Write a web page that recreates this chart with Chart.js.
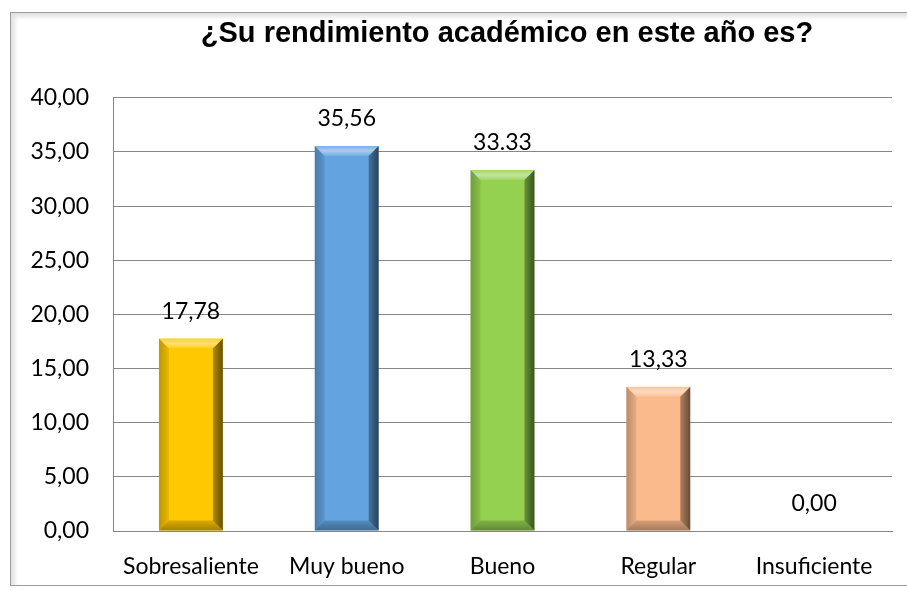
<!DOCTYPE html>
<html>
<head>
<meta charset="utf-8">
<script src="https://cdn.jsdelivr.net/npm/chart.js@4.4.1/dist/chart.umd.min.js"></script>
<style>
html, body { margin: 0; padding: 0; background: #fff; overflow: hidden; }
#wrap { position: relative; width: 907px; height: 591px; overflow: hidden; }
#frame { position: absolute; left: 10px; top: 12px; width: 1010px; height: 572px;
         border-top: 1px solid #9c9c9c; border-left: 1px solid #9c9c9c; border-bottom: 1px solid #9c9c9c;
         box-shadow: inset 4px 4px 4px #e2e2e2; }
#myChart { position: absolute; left: 0; top: 0; }
</style>
</head>
<body>
<div id="wrap">
  <div id="frame"></div>
  <canvas id="myChart" width="1014" height="591"></canvas>
</div>
<script>
const categorias = ['Sobresaliente', 'Muy bueno', 'Bueno', 'Regular', 'Insuficiente'];
const porcentajes = [17.78, 35.56, 33.33, 13.33, 0];
const etiquetasValor = ['17,78', '35,56', '33.33', '13,33', '0,00'];
const coloresBarra = ['#FFC800', '#62A3E0', '#94D150', '#FBBA8C', '#FBBA8C'];

const fuente = 'Lato, Calibri, sans-serif';

// relieve de las barras (estilo biselado de Excel)
const biselPlugin = {
    id: 'bisel',
    afterDatasetsDraw(chart) {
        const c = chart.ctx;
        const meta = chart.getDatasetMeta(0);
        meta.data.forEach(function (bar) {
            const w = bar.width;
            const l = bar.x - w / 2, r = bar.x + w / 2;
            const t = Math.min(bar.y, bar.base), b = Math.max(bar.y, bar.base);
            if (b - t < 2) return;
            const k = Math.min(10, (b - t) / 2);
            const poly = function (pts, color) {
                c.beginPath();
                c.moveTo(pts[0][0], pts[0][1]);
                for (let i = 1; i < pts.length; i++) c.lineTo(pts[i][0], pts[i][1]);
                c.closePath();
                c.fillStyle = color;
                c.fill();
            };
            c.save();
            let gl = c.createLinearGradient(l, 0, l + k, 0);
            gl.addColorStop(0, 'rgba(0,0,0,0.25)');
            gl.addColorStop(1, 'rgba(0,0,0,0.08)');
            poly([[l, t], [l + k, t + k], [l + k, b - k], [l, b]], gl);
            let gr = c.createLinearGradient(r - k, 0, r, 0);
            gr.addColorStop(0, 'rgba(0,0,0,0.30)');
            gr.addColorStop(1, 'rgba(0,0,0,0.60)');
            poly([[r, t], [r, b], [r - k, b - k], [r - k, t + k]], gr);
            let gb = c.createLinearGradient(0, b - k, 0, b);
            gb.addColorStop(0, 'rgba(0,0,0,0.15)');
            gb.addColorStop(1, 'rgba(0,0,0,0.35)');
            poly([[l, b], [r, b], [r - k, b - k], [l + k, b - k]], gb);
            let gt = c.createLinearGradient(0, t, 0, t + k);
            gt.addColorStop(0, 'rgba(255,255,255,0.15)');
            gt.addColorStop(0.5, 'rgba(255,255,255,0.45)');
            gt.addColorStop(1, 'rgba(255,255,255,0.10)');
            poly([[l, t], [r, t], [r - k, t + k], [l + k, t + k]], gt);
            c.restore();
        });
    },
    afterDraw(chart) {
        const c = chart.ctx;
        const meta = chart.getDatasetMeta(0);
        c.save();
        c.font = '23px ' + fuente;
        c.fillStyle = '#000';
        c.textAlign = 'center';
        c.textBaseline = 'middle';
        meta.data.forEach(function (bar, i) {
            c.fillText(etiquetasValor[i], bar.x, bar.y - 27);
        });
        c.restore();
    }
};

const ctx = document.getElementById('myChart').getContext('2d');
const myChart = new Chart(ctx, {
    type: 'bar',
    data: {
        labels: categorias,
        datasets: [{
            data: porcentajes,
            backgroundColor: coloresBarra,
            borderWidth: 0,
            barPercentage: 0.82,
            categoryPercentage: 0.5
        }]
    },
    options: {
        responsive: false,
        animation: false,
        layout: { padding: 0 },
        plugins: {
            legend: { display: false },
            tooltip: { enabled: false },
            title: {
                display: true,
                text: '¿Su rendimiento académico en este año es?',
                color: '#000',
                font: { family: '"Liberation Sans", Arial, sans-serif', size: 29, weight: 'bold', lineHeight: 1.2 },
                padding: { top: 17, bottom: 46 }
            }
        },
        scales: {
            x: {
                grid: { display: false, drawTicks: false },
                border: { color: '#868686' },
                ticks: { color: '#000', font: { family: fuente, size: 23 }, padding: 22 },
                afterFit: function (scale) { scale.height = 60; }
            },
            y: {
                min: 0,
                max: 40,
                ticks: {
                    stepSize: 5,
                    color: '#000',
                    font: { family: fuente, size: 23 },
                    padding: 24,
                    callback: function (v) { return v.toFixed(2).replace('.', ','); }
                },
                grid: { color: '#868686', drawTicks: false },
                border: { color: '#868686' },
                afterFit: function (scale) { scale.width = 113; }
            },
            // eje vacío a la derecha: deja el espacio recortado del gráfico original
            margen: {
                position: 'right',
                display: false,
                afterFit: function (scale) { scale.width = 122; }
            }
        }
    },
    plugins: [biselPlugin]
});
</script>
</body>
</html>
